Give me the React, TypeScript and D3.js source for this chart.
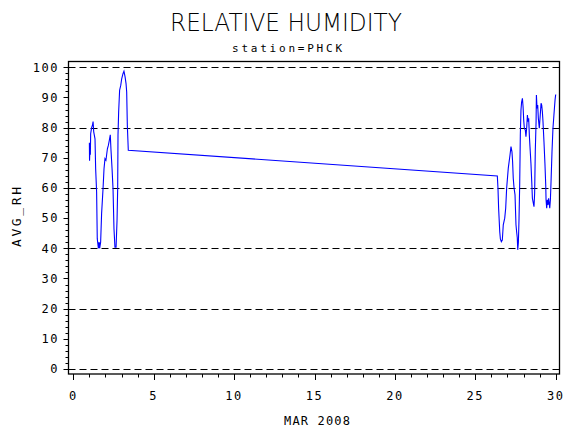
import React, { useEffect, useRef } from 'react';
import * as d3 from 'd3';

// RH readings, day of month (fractional) -> percent
const DAYS = [
  1.0, 1.01, 1.04, 1.06, 1.08, 1.14, 1.2, 1.23, 1.27, 1.35, 1.39, 1.45, 1.49, 1.56, 1.58, 1.6, 1.62,
  1.64, 1.7, 1.76, 1.85, 1.91, 1.97, 2.03, 2.12, 2.18, 2.24, 2.3, 2.34, 2.41, 2.47, 2.53, 2.59, 2.66,
  2.72, 2.76, 2.78, 2.82, 2.88, 2.95, 3.01, 3.09, 3.15, 3.22, 3.28, 3.32, 3.36, 3.42,
  26.37, 26.41, 26.45, 26.52, 26.56, 26.62, 26.68, 26.74, 26.83, 26.89, 26.95, 27.05, 27.16, 27.22,
  27.28, 27.32, 27.36, 27.41, 27.47, 27.53, 27.57, 27.61, 27.64, 27.68, 27.72, 27.76, 27.8, 27.84,
  27.88, 27.93, 27.97, 28.01, 28.05, 28.11, 28.15, 28.2, 28.24, 28.28, 28.32, 28.36, 28.4, 28.46,
  28.51, 28.55, 28.59, 28.65, 28.69, 28.73, 28.78, 28.8, 28.84, 28.88, 28.92, 28.98, 29.04, 29.09,
  29.13, 29.17, 29.21, 29.27, 29.33, 29.38, 29.4, 29.44, 29.48, 29.52, 29.56, 29.63, 29.67, 29.71,
  29.77, 29.83, 29.89, 29.96, 30.0,
];
const AVG_RH = [
  75, 69, 74, 71, 78, 80, 81, 82, 78.6, 76.3, 66.4, 58.7, 43.2, 40, 42, 40, 42,
  40, 42, 51.5, 59.8, 66.4, 69.7, 69.2, 73, 74.1, 75.8, 77.6, 73, 66.4, 59.8, 46.5, 40.4, 40.4,
  49.3, 59.8, 77.5, 85.2, 92.4, 94, 96.2, 97.9, 98.7, 96.8, 94.6, 91.8, 80.8, 72.5,
  64, 60, 53.3, 45.5, 43.1, 42.2, 42.7, 47.8, 50, 53.3, 60, 66.5, 71, 73.7,
  72, 68.7, 63.2, 60, 57.7, 47.8, 45.5, 43.5, 39.5, 42, 50, 61, 77.6, 85.8,
  88.5, 89.7, 87, 82.5, 79.8, 79.2, 77, 80.3, 84.2, 82, 83.1, 77.6, 73.7, 68.2,
  62.1, 56.6, 55.5, 53.8, 58.2, 72, 82, 90.8, 86.4, 87.5, 83.1, 79.8, 84.2, 88.1,
  87.5, 85.3, 82, 75.4, 68.2, 61, 56.1, 53.3, 56.1, 54.4, 56.6, 53.3, 56.1, 62.1,
  72, 79.8, 84.2, 89.2, 91,
];

const X_TICKS = [0, 5, 10, 15, 20, 25, 30];
const Y_TICKS = [0, 10, 20, 30, 40, 50, 60, 70, 80, 90, 100];
const GRID_LINES = [0, 20, 40, 60, 80, 100];

const MONO = "'DejaVu Sans Mono', monospace";

export default function App() {
  const svgRef = useRef<SVGSVGElement>(null);

  useEffect(() => {
    if (!svgRef.current) return;
    const svg = d3.select(svgRef.current);
    svg.selectAll('*').remove();

    const frame = { left: 68.5, right: 559.5, top: 61.5, bottom: 374 };

    const x = d3.scaleLinear().domain([0, 30]).range([73.3, 555.7]);
    const y = d3.scaleLinear().domain([0, 100]).range([369, 67.3]);

    // titulo
    svg.append('text')
      .attr('x', 286).attr('y', 31)
      .attr('text-anchor', 'middle')
      .attr('font-family', "'DejaVu Sans', sans-serif")
      .attr('font-weight', 200)
      .attr('font-size', 25)
      .attr('textLength', 232)
      .attr('lengthAdjust', 'spacingAndGlyphs')
      .text('RELATIVE HUMIDITY');

    svg.append('text')
      .attr('x', 287).attr('y', 52)
      .attr('text-anchor', 'middle')
      .attr('font-family', MONO)
      .attr('font-size', 11)
      .attr('textLength', 110)
      .attr('lengthAdjust', 'spacing')
      .text('station=PHCK');

    // grid
    GRID_LINES.forEach(v => {
      svg.append('line')
        .attr('x1', frame.left).attr('x2', frame.right)
        .attr('y1', Math.round(y(v)) + 0.5).attr('y2', Math.round(y(v)) + 0.5)
        .attr('stroke', '#000')
        .attr('stroke-dasharray', '7 4');
    });

    // data line
    const points = DAYS.map((d, i) => [d, AVG_RH[i]] as [number, number]);
    svg.append('path')
      .datum(points)
      .attr('d', d3.line<[number, number]>().x(d => x(d[0])).y(d => y(d[1])))
      .attr('fill', 'none')
      .attr('stroke', '#0000ff')
      .attr('stroke-width', 1.1);

    // frame
    svg.append('rect')
      .attr('x', frame.left).attr('y', frame.top)
      .attr('width', frame.right - frame.left)
      .attr('height', frame.bottom - frame.top)
      .attr('fill', 'none')
      .attr('stroke', '#000')
      .attr('stroke-width', 1.3);

    // x ticks
    d3.range(0, 31).forEach(d => {
      const major = d % 5 === 0;
      const px = Math.round(x(d)) + 0.5;
      svg.append('line')
        .attr('x1', px).attr('x2', px)
        .attr('y1', frame.bottom).attr('y2', frame.bottom + (major ? 6 : 3.5))
        .attr('stroke', '#000');
    });
    X_TICKS.forEach(d => {
      svg.append('text')
        .attr('x', x(d)).attr('y', 400)
        .attr('text-anchor', 'middle')
        .attr('font-family', MONO)
        .attr('font-size', 12)
        .attr('letter-spacing', 1.5)
        .text(d.toString());
    });

    // y ticks
    d3.range(0, 101, 2).forEach(v => {
      const major = v % 10 === 0;
      const py = Math.round(y(v)) + 0.5;
      svg.append('line')
        .attr('x1', frame.left).attr('x2', frame.left - (major ? 5 : 3))
        .attr('y1', py).attr('y2', py)
        .attr('stroke', '#000');
    });
    Y_TICKS.forEach(v => {
      svg.append('text')
        .attr('x', 59).attr('y', y(v))
        .attr('dy', '0.36em')
        .attr('text-anchor', 'end')
        .attr('font-family', MONO)
        .attr('font-size', 12)
        .attr('letter-spacing', 1.5)
        .text(v.toString());
    });

    // axis labels
    svg.append('text')
      .attr('x', 317).attr('y', 425)
      .attr('text-anchor', 'middle')
      .attr('font-family', MONO)
      .attr('font-size', 12)
      .attr('textLength', 66)
      .attr('lengthAdjust', 'spacing')
      .text('MAR 2008');

    svg.append('text')
      .attr('transform', 'translate(20.5,217) rotate(-90)')
      .attr('text-anchor', 'middle')
      .attr('font-family', MONO)
      .attr('font-size', 13)
      .attr('textLength', 60)
      .attr('lengthAdjust', 'spacing')
      .text('AVG_RH');
  }, []);

  return (
    <div style={{ position: 'absolute', left: 0, top: 0, background: '#fff' }}>
      <svg ref={svgRef} width={570} height={430} style={{ display: 'block' }} />
    </div>
  );
}
